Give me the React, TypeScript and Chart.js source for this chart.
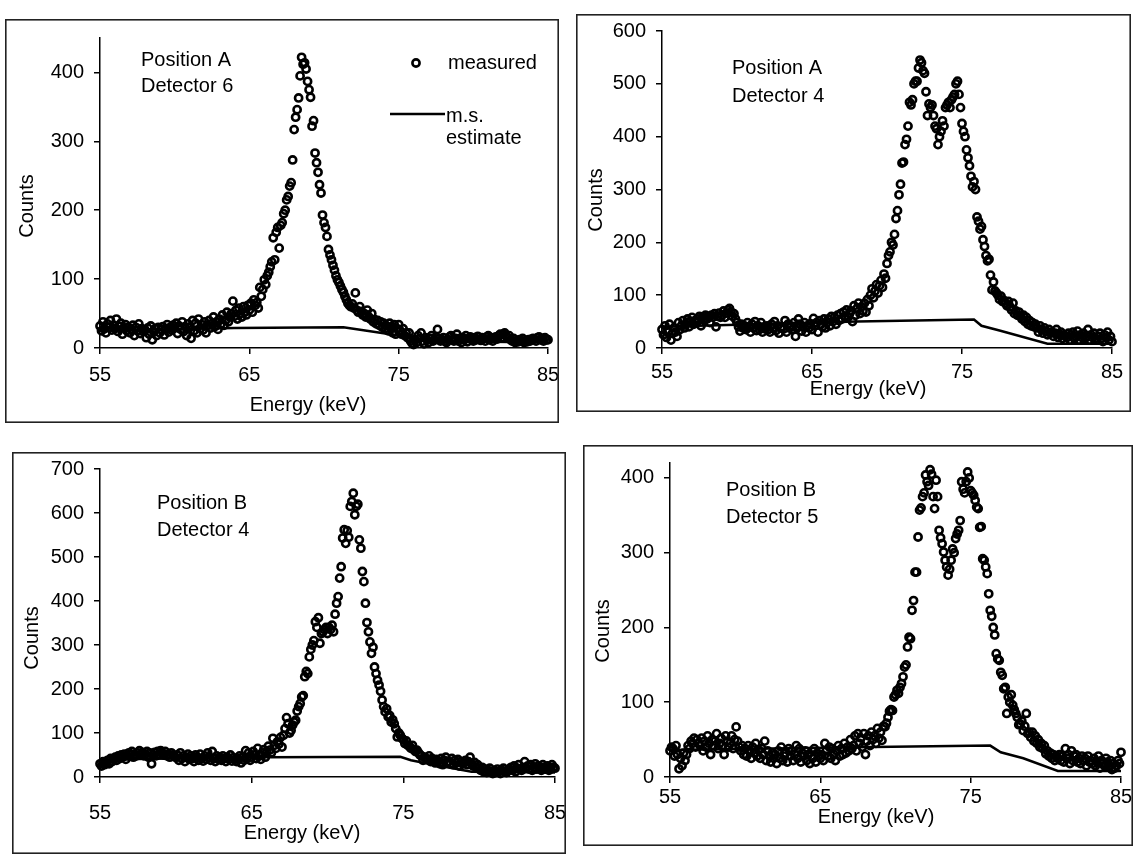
import React, { useEffect, useRef } from "react";
import { Chart, registerables } from "chart.js";

Chart.register(...registerables);

// ---------- DATA ----------
const E_START = 55;
const E_STEP = 0.1; // keV per channel
const xTicks = [55, 65, 75, 85];

// Position A, Detector 6 (counts per channel, 55.0 .. 85.0 keV)
const measuredA6 = [
  32, 25, 38, 28, 22, 35, 30, 40, 26, 33,
  28, 42, 24, 31, 36, 20, 29, 34, 25, 30,
  22, 27, 33, 18, 30, 25, 35, 21, 28, 24,
  26, 15, 29, 20, 32, 12, 24, 28, 18, 30,
  22, 27, 31, 19, 28, 34, 23, 30, 26, 33,
  29, 36, 21, 32, 27, 38, 24, 31, 18, 35,
  30, 14, 40, 25, 36, 22, 42, 28, 34, 26,
  38, 22, 33, 40, 29, 35, 45, 31, 38, 27,
  42, 35, 48, 33, 40, 52, 38, 45, 50, 68,
  46, 55, 42, 58, 50, 45, 60, 52, 48, 62,
  55, 65, 52, 70, 62, 66, 58, 88, 75, 85,
  99, 92, 105, 110, 118, 125, 160, 128, 168, 175,
  145, 178, 182, 195, 200, 215, 220, 235, 240, 273,
  317, 335, 346, 363, 395, 422, 412, 414, 405, 387,
  375, 364, 322, 330, 283, 269, 255, 237, 225, 193,
  182, 175, 162, 143, 135, 128, 120, 113, 105, 99,
  95, 90, 85, 81, 75, 70, 65, 62, 60, 64,
  58, 80, 55, 52, 60, 53, 48, 50, 45, 55,
  45, 42, 50, 38, 41, 35, 40, 33, 38, 30,
  36, 28, 32, 25, 36, 30, 22, 34, 20, 28,
  34, 25, 20, 28, 18, 22, 15, 22, 10, 7,
  5, 12, 8, 18, 14, 22, 10, 6, 15, 12,
  8, 14, 18, 10, 12, 16, 27, 14, 10, 12,
  15, 10, 8, 12, 16, 18, 12, 10, 14, 20,
  10, 14, 8, 15, 12, 18, 9, 14, 16, 12,
  10, 15, 12, 17, 13, 11, 15, 14, 10, 16,
  18, 12, 15, 10, 14, 16, 13, 18, 20, 15,
  20, 22, 17, 15, 18, 12, 10, 14, 8, 11,
  9, 12, 10, 14, 8, 11, 9, 12, 10, 13,
  14, 13, 10, 15, 16, 12, 14, 10, 15, 12,
  12,
];
const estA6E = [55, 64, 71.3, 75, 77, 85];
const estA6C = [25, 29, 30, 18, 10, 8];
const yTicksA6 = [0, 100, 200, 300, 400];

// Position A, Detector 4
const measuredA4 = [
  35, 25, 42, 20, 30, 45, 15, 28, 38, 30,
  22, 48, 35, 42, 52, 38, 45, 55, 40, 50,
  58, 45, 52, 48, 55, 60, 42, 58, 52, 62,
  55, 60, 48, 62, 58, 65, 40, 60, 66, 58,
  62, 70, 58, 66, 72, 75, 68, 60, 65, 55,
  48, 40, 32, 45, 38, 42, 35, 48, 40, 30,
  45, 38, 50, 33, 42, 35, 48, 30, 40, 36,
  42, 35, 30, 45, 38, 50, 33, 42, 28, 38,
  40, 36, 52, 30, 45, 38, 42, 35, 48, 22,
  38, 55, 45, 32, 40, 48, 30, 42, 38, 46,
  35, 56, 42, 48, 30, 52, 45, 40, 55, 38,
  48, 55, 42, 60, 50, 58, 45, 62, 52, 65,
  55, 68, 60, 72, 58, 65, 70, 50, 80, 62,
  75, 85, 65, 78, 70, 85, 68, 92, 80, 100,
  112, 95, 108, 120, 104, 118, 128, 115, 140, 132,
  160, 175, 182, 200, 195, 215, 245, 260, 290, 310,
  350, 352, 385, 395, 420, 465, 460, 470, 500, 505,
  505, 530, 545, 540, 525, 520, 485, 440, 462, 455,
  460, 440, 420, 415, 385, 400, 410, 430, 420, 455,
  460, 465, 455, 470, 475, 480, 500, 505, 480, 455,
  425, 410, 400, 375, 360, 345, 325, 305, 315, 300,
  248, 240, 225, 230, 205, 192, 175, 165, 168, 138,
  110, 125, 108, 104, 100, 92, 98, 88, 90, 85,
  80, 88, 78, 72, 85, 65, 70, 62, 68, 60,
  55, 62, 50, 58, 45, 52, 42, 48, 40, 45,
  38, 30, 42, 35, 28, 38, 32, 25, 35, 28,
  30, 22, 28, 35, 20, 26, 30, 18, 25, 22,
  20, 28, 15, 25, 30, 18, 22, 32, 15, 25,
  20, 28, 18, 22, 35, 15, 25, 20, 28, 18,
  15, 22, 28, 18, 12, 25, 20, 30, 15, 22,
  12,
];
const estA4E = [55, 68, 75.8, 76.3, 77.5, 80.7, 85];
const estA4C = [40, 50, 54, 42, 33, 8, 8];
const yTicksA4 = [0, 100, 200, 300, 400, 500, 600];

// Position B, Detector 4
const measuredB4 = [
  30, 25, 35, 28, 32, 38, 30, 42, 35, 40,
  45, 38, 48, 42, 50, 45, 52, 40, 48, 55,
  50, 58, 45, 52, 48, 55, 60, 50, 56, 48,
  52, 58, 45, 55, 30, 50, 56, 48, 58, 52,
  60, 55, 50, 58, 48, 52, 45, 55, 50, 48,
  44, 50, 38, 55, 42, 48, 35, 45, 52, 40,
  48, 42, 35, 50, 45, 38, 52, 42, 36, 48,
  40, 55, 45, 38, 58, 42, 35, 48, 40, 45,
  38, 48, 42, 35, 45, 40, 50, 36, 44, 40,
  35, 42, 48, 32, 45, 38, 60, 42, 55, 38,
  45, 58, 50, 42, 65, 48, 40, 55, 62, 45,
  58, 70, 61, 55, 88, 72, 65, 80, 75, 90,
  68, 95, 110, 135, 121, 100, 106, 118, 125, 129,
  150, 160, 167, 182, 185, 228, 240, 235, 273, 290,
  300, 310, 353, 340, 362, 304, 326, 330, 335, 340,
  326, 340, 335, 345, 330, 370, 395, 410, 452, 478,
  543, 562, 531, 560, 545, 615, 626, 645, 596, 615,
  620, 539, 520, 467, 444, 395, 351, 330, 307, 281,
  295, 250, 235, 220, 209, 195, 175, 160, 148, 155,
  137, 140, 125, 130, 121, 110, 91, 100, 95, 88,
  85, 76, 82, 72, 70, 65, 72, 62, 58, 61,
  55, 50, 48, 38, 45, 42, 40, 48, 35, 42,
  38, 32, 40, 35, 30, 42, 28, 38, 45, 33,
  35, 30, 42, 28, 38, 32, 40, 25, 35, 30,
  32, 38, 28, 35, 45, 30, 25, 33, 22, 28,
  20, 15, 22, 12, 18, 10, 15, 20, 12, 8,
  15, 10, 18, 12, 8, 15, 20, 12, 10, 16,
  18, 22, 15, 25, 12, 20, 28, 18, 15, 22,
  35, 20, 25, 18, 28, 15, 22, 30, 18, 25,
  20, 15, 28, 22, 18, 25, 15, 20, 28, 22,
  20,
];
const estB4E = [55, 66, 74.8, 75.5, 77, 79.5, 85];
const estB4C = [40, 45, 46, 38, 28, 12, 10];
const yTicksB4 = [0, 100, 200, 300, 400, 500, 600, 700];

// Position B, Detector 5
const measuredB5 = [
  35, 40, 38, 28, 42, 30, 11, 25, 15, 32,
  22, 30, 42, 38, 48, 45, 52, 40, 50, 45,
  42, 52, 35, 48, 40, 55, 45, 30, 50, 42,
  48, 58, 38, 45, 52, 42, 30, 55, 48, 40,
  45, 55, 38, 50, 67, 48, 40, 35, 42, 30,
  38, 28, 42, 35, 25, 40, 32, 45, 28, 36,
  25, 38, 30, 48, 22, 35, 28, 20, 32, 25,
  30, 18, 35, 25, 40, 22, 28, 32, 20, 38,
  28, 35, 22, 30, 42, 25, 38, 20, 32, 28,
  35, 22, 30, 18, 28, 25, 38, 20, 32, 28,
  25, 30, 22, 45, 35, 28, 40, 25, 38, 30,
  22, 35, 42, 28, 38, 30, 45, 32, 40, 35,
  50, 38, 42, 55, 35, 58, 45, 52, 40, 58,
  30, 48, 55, 42, 60, 50, 55, 45, 65, 52,
  60, 49, 68, 67, 72, 80, 88, 90, 89, 107,
  110, 116, 112, 120, 125, 134, 147, 150, 174, 187,
  185, 223, 236, 274, 274, 321, 357, 360, 375, 380,
  404, 395, 390, 411, 405, 375, 359, 397, 375, 330,
  320, 312, 301, 290, 281, 270, 278, 290, 305, 300,
  319, 325, 330, 343, 395, 385, 380, 395, 408, 400,
  383, 380, 377, 370, 361, 359, 334, 335, 292, 290,
  281, 272, 245, 223, 215, 200, 190, 165, 158, 156,
  140, 136, 118, 120, 85, 107, 100, 110, 96, 90,
  85, 80, 70, 71, 75, 62, 68, 85, 58, 60,
  53, 60, 48, 55, 45, 50, 40, 45, 38, 42,
  31, 35, 28, 32, 25, 30, 22, 28, 25, 30,
  22, 28, 20, 38, 25, 30, 18, 35, 22, 28,
  30, 20, 25, 18, 28, 22, 25, 15, 28, 20,
  22, 18, 25, 15, 20, 28, 12, 22, 18, 15,
  25, 20, 15, 22, 10, 18, 12, 15, 22, 18,
  33,
];
const estB5E = [55, 68.5, 76.3, 77, 78.5, 80.8, 85];
const estB5C = [36, 40, 42, 33, 25, 8, 8];
const yTicksB5 = [0, 100, 200, 300, 400];

// ---------- STYLE / LAYOUT ----------
const FONT_FAMILY = '"Liberation Sans", Arial, Helvetica, sans-serif';
const FONT_SIZE = 20;
const AXIS_W = 50;
const AXIS_H = 60;

type TextItem = { text: string; x: number; y: number; align?: CanvasTextAlign; rot?: number };

type Panel = {
  key: string;
  values: number[];
  estE: number[];
  estC: number[];
  yTicks: number[];
  yMax: number;
  box: { left: number; top: number; right: number; bottom: number };
  area: { left: number; right: number; top: number; bottom: number };
  xTickPad: number;
  texts: TextItem[];
  legend?: boolean;
};

const panels: Panel[] = [
  {
    key: "A6",
    values: measuredA6,
    estE: estA6E,
    estC: estA6C,
    yTicks: yTicksA6,
    yMax: 450,
    box: { left: 5, top: 19, right: 559, bottom: 423 },
    area: { left: 100, right: 548, top: 38, bottom: 348 },
    xTickPad: 9,
    texts: [
      { text: "Counts", x: 27, y: 206, rot: -Math.PI / 2, align: "center" },
      { text: "Energy (keV)", x: 308, y: 405, align: "center" },
      { text: "Position A", x: 141, y: 60, align: "left" },
      { text: "Detector 6", x: 141, y: 86, align: "left" },
      { text: "measured", x: 448, y: 63, align: "left" },
      { text: "m.s.", x: 446, y: 116, align: "left" },
      { text: "estimate", x: 446, y: 138, align: "left" },
    ],
    legend: true,
  },
  {
    key: "A4",
    values: measuredA4,
    estE: estA4E,
    estC: estA4C,
    yTicks: yTicksA4,
    yMax: 600,
    box: { left: 576, top: 14, right: 1131, bottom: 412 },
    area: { left: 662, right: 1112, top: 31, bottom: 348 },
    xTickPad: 6,
    texts: [
      { text: "Counts", x: 596, y: 200, rot: -Math.PI / 2, align: "center" },
      { text: "Energy (keV)", x: 868, y: 389, align: "center" },
      { text: "Position A", x: 732, y: 68, align: "left" },
      { text: "Detector 4", x: 732, y: 96, align: "left" },
    ],
  },
  {
    key: "B4",
    values: measuredB4,
    estE: estB4E,
    estC: estB4C,
    yTicks: yTicksB4,
    yMax: 700,
    box: { left: 12, top: 452, right: 566, bottom: 854 },
    area: { left: 100, right: 555, top: 469, bottom: 777 },
    xTickPad: 18,
    texts: [
      { text: "Counts", x: 32, y: 638, rot: -Math.PI / 2, align: "center" },
      { text: "Energy (keV)", x: 302, y: 833, align: "center" },
      { text: "Position B", x: 157, y: 503, align: "left" },
      { text: "Detector 4", x: 157, y: 530, align: "left" },
    ],
  },
  {
    key: "B5",
    values: measuredB5,
    estE: estB5E,
    estC: estB5C,
    yTicks: yTicksB5,
    yMax: 420,
    box: { left: 583, top: 445, right: 1133, bottom: 846 },
    area: { left: 670, right: 1121, top: 463, bottom: 777 },
    xTickPad: 2,
    texts: [
      { text: "Counts", x: 603, y: 631, rot: -Math.PI / 2, align: "center" },
      { text: "Energy (keV)", x: 876, y: 817, align: "center" },
      { text: "Position B", x: 726, y: 490, align: "left" },
      { text: "Detector 5", x: 726, y: 517, align: "left" },
    ],
  },
];

const textPlugin = {
  id: "panelText",
  afterDraw(chart: any, _args: any, opts: any) {
    const ctx: CanvasRenderingContext2D = chart.ctx;
    const ox = opts.ox;
    const oy = opts.oy;
    ctx.save();
    ctx.strokeStyle = "#222";
    ctx.lineWidth = 1.6;
    ctx.strokeRect(0.8, 0.8, chart.width - 1.6, chart.height - 1.6);
    ctx.fillStyle = "#000";
    ctx.font = `${FONT_SIZE}px ${FONT_FAMILY}`;
    ctx.textBaseline = "middle";
    for (const t of opts.texts as TextItem[]) {
      ctx.save();
      ctx.translate(t.x - ox, t.y - oy);
      if (t.rot) ctx.rotate(t.rot);
      ctx.textAlign = t.align || "left";
      ctx.fillText(t.text, 0, 0);
      ctx.restore();
    }
    if (opts.legend) {
      ctx.strokeStyle = "#000";
      ctx.lineWidth = 2.6;
      ctx.beginPath();
      ctx.arc(416 - ox, 63 - oy, 3.6, 0, Math.PI * 2);
      ctx.stroke();
      ctx.lineWidth = 2.5;
      ctx.beginPath();
      ctx.moveTo(390 - ox, 114 - oy);
      ctx.lineTo(445 - ox, 114 - oy);
      ctx.stroke();
    }
    ctx.restore();
  },
};

function PanelChart({ p }: { p: Panel }) {
  const ref = useRef<HTMLCanvasElement | null>(null);
  const w = p.box.right - p.box.left;
  const h = p.box.bottom - p.box.top;

  useEffect(() => {
    if (!ref.current) return;
    const measured = p.values.map((c, i) => ({ x: E_START + i * E_STEP, y: c }));
    const est = p.estE.map((e, i) => ({ x: e, y: p.estC[i] }));
    const padLeft = p.area.left - p.box.left - AXIS_W;
    const padRight = p.box.right - p.area.right;
    const padTop = p.area.top - p.box.top;
    const padBottom = p.box.bottom - p.area.bottom - AXIS_H;
    const tickFont = { family: FONT_FAMILY, size: FONT_SIZE };
    const chart = new Chart(ref.current, {
      type: "scatter",
      data: {
        datasets: [
          {
            data: measured,
            showLine: false,
            pointRadius: 3.6,
            pointBorderWidth: 2.6,
            pointBorderColor: "#000",
            pointBackgroundColor: "rgba(0,0,0,0)",
            order: 0,
            clip: false,
          } as any,
          {
            data: est,
            showLine: true,
            pointRadius: 0,
            borderColor: "#000",
            borderWidth: 2.5,
            tension: 0,
            order: 1,
            clip: false,
          } as any,
        ],
      },
      options: {
        responsive: false,
        animation: false,
        events: [],
        layout: { padding: { left: padLeft, right: padRight, top: padTop, bottom: padBottom } },
        plugins: {
          legend: { display: false },
          tooltip: { enabled: false },
          panelText: { texts: p.texts, legend: !!p.legend, ox: p.box.left, oy: p.box.top },
        } as any,
        scales: {
          x: {
            type: "linear",
            min: 55,
            max: 85,
            afterBuildTicks: (s: any) => {
              s.ticks = xTicks.map((v) => ({ value: v }));
            },
            afterFit: (s: any) => {
              s.height = AXIS_H;
              s.paddingLeft = 0;
              s.paddingRight = 0;
            },
            grid: { display: true, drawOnChartArea: false, drawTicks: true, tickLength: 6, color: "#000", lineWidth: 1.5 },
            border: { display: true, color: "#000", width: 1.5 },
            ticks: { font: tickFont, color: "#000", padding: p.xTickPad, maxRotation: 0, autoSkip: false, callback: (v: any) => String(v) },
          },
          y: {
            type: "linear",
            min: 0,
            max: p.yMax,
            afterBuildTicks: (s: any) => {
              s.ticks = p.yTicks.map((v) => ({ value: v }));
            },
            afterFit: (s: any) => {
              s.width = AXIS_W;
              s.paddingTop = 0;
              s.paddingBottom = 0;
            },
            grid: { display: true, drawOnChartArea: false, drawTicks: true, tickLength: 6, color: "#000", lineWidth: 1.5 },
            border: { display: true, color: "#000", width: 1.5 },
            ticks: { font: tickFont, color: "#000", padding: 10, autoSkip: false, callback: (v: any) => String(v) },
          },
        } as any,
      },
      plugins: [textPlugin as any],
    });
    return () => chart.destroy();
  }, [p]);

  return (
    <canvas
      ref={ref}
      width={w}
      height={h}
      style={{ position: "absolute", left: p.box.left, top: p.box.top, width: w, height: h }}
    />
  );
}

export default function App() {
  return (
    <div
      style={{
        position: "absolute",
        left: 0,
        top: 0,
        width: 1134,
        height: 856,
        background: "#fff",
        overflow: "hidden",
      }}
    >
      {panels.map((p) => (
        <PanelChart key={p.key} p={p} />
      ))}
    </div>
  );
}
